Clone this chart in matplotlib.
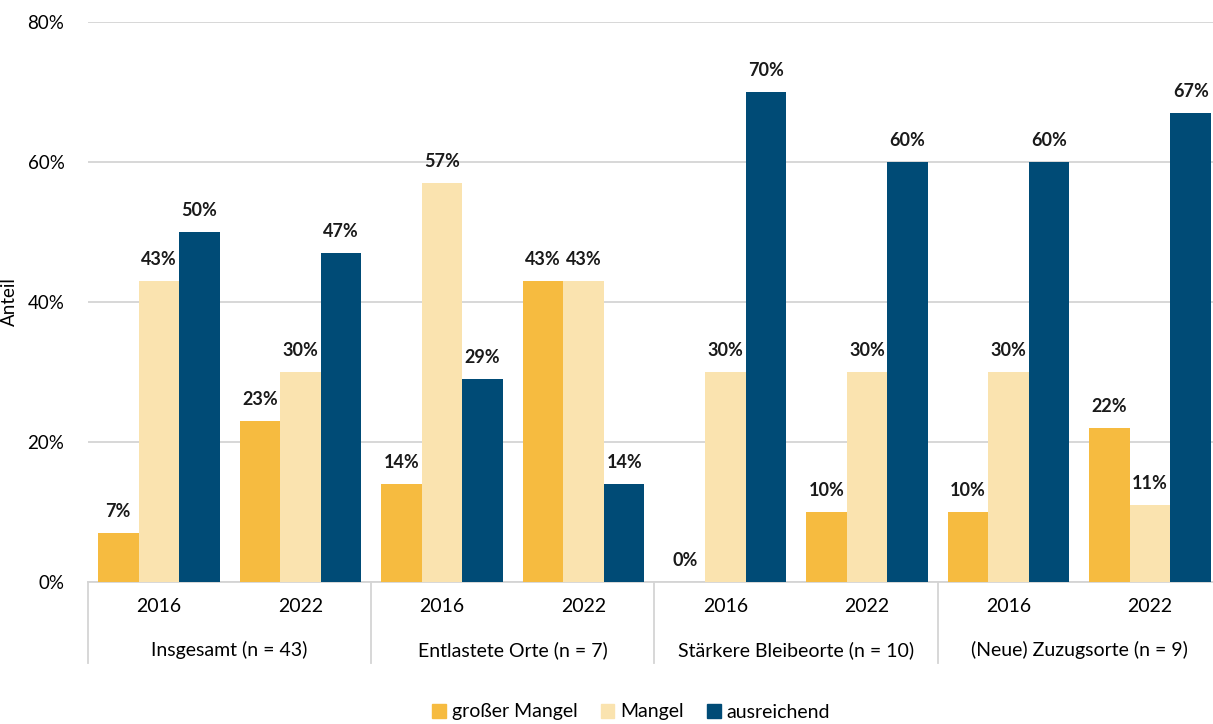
import numpy as np
import matplotlib.pyplot as plt
from matplotlib.patches import Patch
import matplotlib.transforms as mtransforms

plt.rcParams['font.family'] = ['Lato', 'DejaVu Sans']

years = ['2016', '2022', '2016', '2022', '2016', '2022', '2016', '2022']
groups = ['Insgesamt (n = 43)', 'Entlastete Orte (n = 7)',
          'Stärkere Bleibeorte (n = 10)', '(Neue) Zuzugsorte (n = 9)']
series = ['großer Mangel', 'Mangel', 'ausreichend']
gross = [7, 23, 14, 43, 0, 10, 10, 22]
mangel = [43, 30, 57, 43, 30, 30, 30, 11]
ausreichend = [50, 47, 29, 14, 70, 60, 60, 67]
colors = ['#F6BB40', '#FAE3AF', '#004B76']

fig = plt.figure(figsize=(12.13, 7.24), dpi=100)
ax = fig.add_axes([88/1213, 1-582/724, 1133/1213, 560/724])

x = np.arange(len(years))
w = 0.286
for i, (vals, c) in enumerate(zip([gross, mangel, ausreichend], colors)):
    pos = x + (i-1)*w
    ax.bar(pos, vals, width=w, color=c, zorder=3)
    for p, v in zip(pos, vals):
        ax.text(p, v+1.8, '%d%%' % v, ha='center', va='bottom',
                fontsize=13, fontweight='bold', color='#1a1a1a')

ax.set_xlim(-0.5, 7.5)
ax.set_ylim(0, 80)
ax.set_yticks([0, 20, 40, 60, 80])
ax.set_yticklabels(['0%', '20%', '40%', '60%', '80%'], fontsize=13.5)
ax.yaxis.grid(True, color='#D4D4D4', linewidth=1.3, zorder=0)
ax.tick_params(axis='y', length=0, pad=17)
ax.tick_params(axis='x', length=0)
ax.set_xticks([])
for s in ['top', 'right', 'left']:
    ax.spines[s].set_visible(False)
ax.spines['bottom'].set_color('#D4D4D4')
ax.spines['bottom'].set_linewidth(1.3)
ax.set_ylabel('Anteil', fontsize=13.5)
ax.yaxis.set_label_coords(-70/1133, 0.5)

trans = mtransforms.blended_transform_factory(ax.transData, ax.transAxes)
for xs in [-0.5, 1.5, 3.5, 5.5]:
    ax.plot([xs, xs], [0, -81/560], transform=trans, color='#D4D4D4',
            linewidth=1.3, clip_on=False)
for xi, y in zip(x, years):
    ax.text(xi, -25/560, y, transform=trans, ha='center', va='center', fontsize=14)
for gi, g in enumerate(groups):
    ax.text(2*gi+0.5, -68/560, g, transform=trans, ha='center', va='center', fontsize=14)

handles = [Patch(color=c, label=s) for c, s in zip(colors, series)]
fig.legend(handles=handles, loc='center', bbox_to_anchor=(631/1213, 1-712/724),
           ncol=3, frameon=False, fontsize=14, handlelength=0.7, handleheight=0.7,
           handletextpad=0.3, columnspacing=1.2)

fig.savefig('out.png', dpi=100)
